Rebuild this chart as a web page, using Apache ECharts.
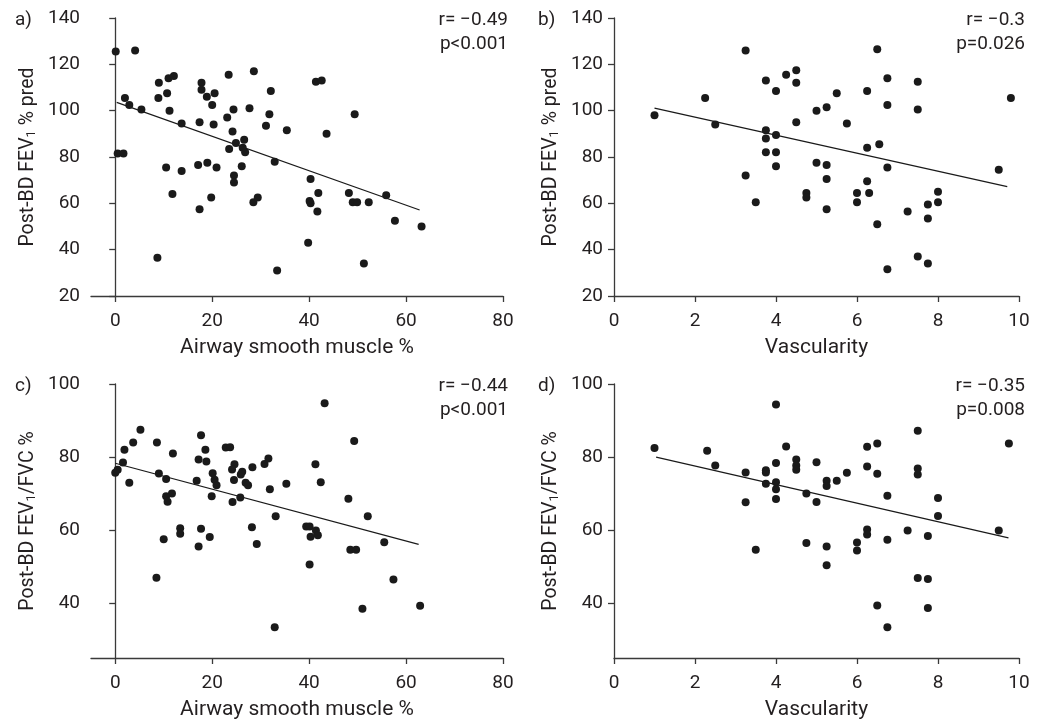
<!DOCTYPE html>
<html><head><meta charset="utf-8">
<script src="https://cdn.jsdelivr.net/npm/echarts@6/dist/echarts.min.js"></script>
<style>html,body{margin:0;padding:0;background:#fff}#c{width:1051px;height:721px}</style>
</head><body><div id="c"></div>
<script>
// Panel a: Airway smooth muscle % vs Post-BD FEV1 % pred
const aX = [0.1,4.1,2,2.9,5.4,0.5,1.7,9,8.9,11,12.1,10.7,11.2,13.7,10.5,13.7,11.8,8.7,17.8,17.8,18.9,20.5,20,20.3,17.4,17.1,19,20.9,17.4,19.8,23.4,28.6,24.4,23.1,27.7,24.2,24.9,26.6,26.8,26.3,23.5,26.1,24.5,24.5,28.5,29.4,32.1,31.8,31.1,35.4,32.9,33.4,41.4,42.6,43.6,40.3,40.1,40.3,41.9,41.7,39.8,49.4,48.2,49,49.9,52.3,51.3,55.9,57.7,63.2];
const aY = [125.5,126,105.5,102.5,100.5,81.5,81.5,112,105.5,114,115,107.5,100,94.5,75.5,74,64,36.5,112,109,106,107.5,102.5,94,95,76.5,77.5,75.5,57.5,62.5,115.5,117,100.5,97,101,91,86,87.5,82,84,83.5,76,72,69,60.5,62.5,108.5,98.5,93.5,91.5,78,31,112.5,113,90,70.5,61,60,64.5,56.5,43,98.5,64.5,60.5,60.5,60.5,34,63.5,52.5,50];
const aFitX = [0.3, 62.8];
const aFitY = [103.6, 57.1];
// Panel b: Vascularity vs Post-BD FEV1 % pred
const bX = [1,2.25,2.5,3.25,3.75,3.75,3.75,3.75,3.25,3.5,4,4,4,4,4.25,4.5,4.5,4.5,4.75,4.75,5,5,5.25,5.25,5.25,5.25,5.5,5.75,6,6,6.25,6.25,6.25,6.3,6.5,6.55,6.5,6.75,6.75,6.75,6.75,7.25,7.5,7.5,7.5,7.75,7.75,7.75,8,8,9.5,9.8];
const bY = [98,105.5,94,126,113,91.5,88,82,72,60.5,108.5,89.5,82,76,115.5,117.5,112,95,64.5,62.5,100,77.5,101.5,76.5,70.5,57.5,107.5,94.5,64.5,60.5,108.5,84,69.5,64.5,126.5,85.5,51,114,102.5,75.5,31.5,56.5,112.5,100.5,37,59.5,53.5,34,65,60.5,74.5,105.5];
const bFitX = [1.0, 9.71];
const bFitY = [101.1, 67.2];
// Panel c: Airway smooth muscle % vs Post-BD FEV1/FVC %
const cX = [0,0.5,1.6,1.9,3.7,5.2,2.9,8.6,9,10.5,11.9,11.7,10.5,10.8,13.4,13.4,10,8.5,17.7,18.6,17.2,18.8,16.8,20.1,20.5,20.9,19.9,17.7,19.5,17.2,22.8,23.7,24.6,24.1,26.2,25.9,24.5,26.9,27.4,25.8,24.2,28.3,30.8,31.6,31.9,28.2,29.2,33.1,32.9,35.3,43.2,41.3,42.4,39.4,40.1,41.4,41.8,40.3,40.1,49.3,48.1,52.1,48.5,49.7,51,55.5,57.4,62.9];
const cY = [75.7,76.5,78.5,82,84,87.5,73,84,75.5,74,81,70,69.3,67.8,60.5,59,57.5,47,86,82,79.3,78.8,73.5,75.6,73.8,72.3,69.3,60.4,58.1,55.5,82.6,82.7,78,76.6,76,75.2,73.7,73,72.3,68.9,67.7,77.2,78.1,79.6,71.2,60.8,56.2,63.8,33.4,72.7,94.7,78,73.1,61,61,59.9,58.6,58.2,50.6,84.4,68.6,63.8,54.6,54.6,38.5,56.7,46.5,39.3];
const cFitX = [0, 62.6];
const cFitY = [78.3, 56.1];
// Panel d: Vascularity vs Post-BD FEV1/FVC %
const dX = [1,2.3,2.5,3.25,3.25,3.5,3.75,3.75,3.75,4,4,4,4,4,4.25,4.5,4.5,4.5,4.75,4.75,5,5,5.25,5.25,5.5,5.25,5.25,5.75,6,6,6.25,6.25,6.25,6.25,6.5,6.5,6.5,6.75,6.75,6.75,7.25,7.5,7.5,7.5,7.5,7.75,7.75,7.75,8,8,9.5,9.75];
const dY = [82.5,81.7,77.7,75.8,67.6,54.6,76.4,75.8,72.7,94.4,78.4,73.1,71.2,68.5,82.9,79.3,77.7,76.5,70,56.5,78.6,67.7,73.5,72.1,73.5,55.5,50.4,75.7,56.6,54.4,82.8,77.4,60.2,58.8,83.7,75.4,39.4,69.4,57.4,33.4,59.9,87.2,76.9,75.2,46.9,58.4,46.6,38.7,68.8,63.9,59.9,83.7];
const dFitX = [1.04, 9.74];
const dFitY = [80.0, 57.9];

const asmTicks = [0,20,40,60,80];
const ratioTicks = [40,60,80,100];
const xNameASM = 'Airway smooth muscle %';
const xNameVasc = 'Vascularity';
const yNameFEV = 'Post-BD FEV{s|1} % pred';
const yNameRatio = 'Post-BD FEV{s|1}/FVC %';
const panelLabels = ['a)','b)','c)','d)'];
const statR = ['r= \u22120.49','r= \u22120.3','r= \u22120.44','r= \u22120.35'];
const statP = ['p<0.001','p=0.026','p<0.001','p=0.008'];

const FONT = 'Roboto';
const TXT = '#231f20';
const AX = '#3a3a3a';
const pair = (xs, ys) => xs.map((x, i) => [x, ys[i]]);

const grids = [
  {left: 91, top: 18, width: 412, height: 278},
  {left: 614, top: 18, width: 405, height: 278},
  {left: 91, top: 384, width: 412, height: 278},
  {left: 614, top: 384, width: 405, height: 278}
];
const axisLine = {lineStyle: {color: AX, width: 1.3}};
const axisTick = {inside: false, length: 6, lineStyle: {color: AX, width: 1.3}};
const axisLabel = {color: TXT, fontFamily: FONT, fontSize: 19, margin: 11};
const xNameStyle = {color: TXT, fontFamily: FONT, fontSize: 21};
const yNameStyle = {color: TXT, fontFamily: FONT, fontSize: 19.5,
  rich: {s: {fontSize: 13, fontFamily: FONT, color: TXT, verticalAlign: 'bottom', padding: [5,0,0,0]}}};

function xAxisASM(i) {
  return {gridIndex: i, type: 'value', min: -5, max: 80, name: xNameASM, nameLocation: 'middle', nameGap: 41,
    nameTextStyle: xNameStyle, splitLine: {show: false}, axisLine,
    axisTick: Object.assign({customValues: asmTicks}, axisTick),
    axisLabel: Object.assign({}, axisLabel, {customValues: asmTicks, margin: 16})};
}
function xAxisVasc(i) {
  return {gridIndex: i, type: 'value', min: 0, max: 10, interval: 2, name: xNameVasc, nameLocation: 'middle', nameGap: 41,
    nameTextStyle: xNameStyle, splitLine: {show: false}, axisLine, axisTick,
    axisLabel: Object.assign({}, axisLabel, {margin: 16})};
}
function yAxisFEV(i) {
  return {gridIndex: i, type: 'value', min: 20, max: 140, interval: 20, name: yNameFEV, nameLocation: 'middle', nameGap: 53,
    nameTextStyle: yNameStyle, splitLine: {show: false}, axisLine: Object.assign({show: true}, axisLine), axisTick, axisLabel};
}
function yAxisRatio(i) {
  return {gridIndex: i, type: 'value', min: 25, max: 100, name: yNameRatio, nameLocation: 'middle', nameGap: 53,
    nameTextStyle: yNameStyle, splitLine: {show: false}, axisLine: Object.assign({show: true}, axisLine),
    axisTick: Object.assign({customValues: ratioTicks}, axisTick),
    axisLabel: Object.assign({}, axisLabel, {customValues: ratioTicks})};
}

const scatter = (i, xs, ys) => ({type: 'scatter', xAxisIndex: i, yAxisIndex: i, data: pair(xs, ys),
  symbolSize: 8, itemStyle: {color: '#1a1a1a', opacity: 1}, silent: true, z: 3});
const fit = (i, xs, ys) => ({type: 'line', xAxisIndex: i, yAxisIndex: i, data: pair(xs, ys),
  showSymbol: false, symbol: 'none', lineStyle: {color: '#1a1a1a', width: 1.2}, silent: true, z: 2});

const graphics = [];
const labelPos = [[15, 20], [538, 20], [15, 386], [538, 386]];
const statPos = [[508, 20], [1025, 20], [508, 386], [1025, 386]];
for (let i = 0; i < 4; i++) {
  graphics.push({type: 'text', x: labelPos[i][0], y: labelPos[i][1],
    style: {text: panelLabels[i], font: '19px ' + FONT, fill: TXT, textVerticalAlign: 'middle'}});
  graphics.push({type: 'text', x: statPos[i][0], y: statPos[i][1],
    style: {text: statR[i], font: '19px ' + FONT, fill: TXT, textAlign: 'right', textVerticalAlign: 'middle'}});
  graphics.push({type: 'text', x: statPos[i][0], y: statPos[i][1] + 24,
    style: {text: statP[i], font: '19px ' + FONT, fill: TXT, textAlign: 'right', textVerticalAlign: 'middle'}});
}

const chart = echarts.init(document.getElementById('c'), null, {renderer: 'canvas'});
chart.setOption({
  animation: false,
  backgroundColor: '#fff',
  grid: grids,
  xAxis: [xAxisASM(0), xAxisVasc(1), xAxisASM(2), xAxisVasc(3)],
  yAxis: [yAxisFEV(0), yAxisFEV(1), yAxisRatio(2), yAxisRatio(3)],
  series: [
    scatter(0, aX, aY), fit(0, aFitX, aFitY),
    scatter(1, bX, bY), fit(1, bFitX, bFitY),
    scatter(2, cX, cY), fit(2, cFitX, cFitY),
    scatter(3, dX, dY), fit(3, dFitX, dFitY)
  ],
  graphic: graphics
});
</script>
</body></html>
